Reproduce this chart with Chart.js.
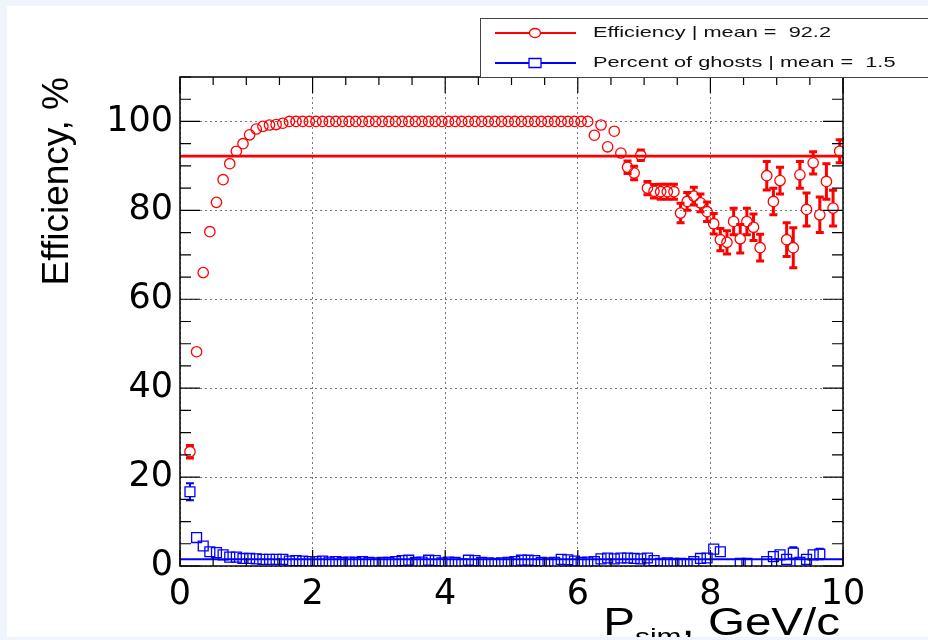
<!DOCTYPE html>
<html>
<head>
<meta charset="utf-8">
<title>Efficiency vs P_sim</title>
<script src="https://cdn.jsdelivr.net/npm/chart.js@4.4.1/dist/chart.umd.min.js"></script>
<style>
  html, body { margin: 0; padding: 0; background: #f0f4fc; overflow: hidden; }
  #page { position: absolute; left: 7px; top: 6px; width: 921px; height: 631px; overflow: hidden; background: #fff; }
  #c { position: absolute; left: -7px; top: -6px; }
</style>
</head>
<body>
<div id="page"><canvas id="c" width="928" height="640"></canvas></div>
<script>
/* ---------- Data ---------- */
const xTicks = [0, 2, 4, 6, 8, 10];
const yTicks = [0, 20, 40, 60, 80, 100];

const binCenters = [
  0.15, 0.25, 0.35, 0.45, 0.55, 0.65, 0.75, 0.85, 0.95,
  1.05, 1.15, 1.25, 1.35, 1.45, 1.55, 1.65, 1.75, 1.85, 1.95,
  2.05, 2.15, 2.25, 2.35, 2.45, 2.55, 2.65, 2.75, 2.85, 2.95,
  3.05, 3.15, 3.25, 3.35, 3.45, 3.55, 3.65, 3.75, 3.85, 3.95,
  4.05, 4.15, 4.25, 4.35, 4.45, 4.55, 4.65, 4.75, 4.85, 4.95,
  5.05, 5.15, 5.25, 5.35, 5.45, 5.55, 5.65, 5.75, 5.85, 5.95,
  6.05, 6.15, 6.25, 6.35, 6.45, 6.55, 6.65, 6.75, 6.85, 6.95,
  7.05, 7.15, 7.25, 7.35, 7.45, 7.55, 7.65, 7.75, 7.85, 7.95,
  8.05, 8.15, 8.25, 8.35, 8.45, 8.55, 8.65, 8.75, 8.85, 8.95,
  9.05, 9.15, 9.25, 9.35, 9.45, 9.55, 9.65, 9.75, 9.85, 9.95
];

const efficiency = [
  25.7, 48.2, 66.0, 75.2, 81.8, 86.9, 90.5, 93.3, 95.0,
  97.0, 98.3, 98.9, 99.2, 99.3, 99.6, 100, 100, 100, 100,
  100, 100, 100, 100, 100, 100, 100, 100, 100, 100,
  100, 100, 100, 100, 100, 100, 100, 100, 100, 100,
  100, 100, 100, 100, 100, 100, 100, 100, 100, 100,
  100, 100, 100, 100, 100, 100, 100, 100, 100, 100,
  100, 100, 96.9, 99.2, 94.3, 97.8, 92.9, 89.7, 88.4, 92.4,
  85.0, 84.3, 84.2, 84.2, 84.2, 79.4, 82.0, 83.2, 81.7, 79.7,
  77.0, 73.4, 72.8, 77.5, 73.6, 77.5, 76.2, 71.6, 87.8, 82.0,
  86.7, 73.4, 71.6, 88.0, 80.2, 90.7, 79.0, 86.5, 80.5, 93.3
];

const efficiencyErr = [
  1.4, 0.6, 0.5, 0.5, 0.4, 0.4, 0.3, 0.3, 0.2,
  0.2, 0.2, 0.1, 0.1, 0.1, 0.1, 0.1, 0.1, 0.1, 0.1,
  0.1, 0.1, 0.1, 0.1, 0.1, 0.1, 0.1, 0.1, 0.1, 0.1,
  0.1, 0.1, 0.1, 0.1, 0.1, 0.1, 0.1, 0.1, 0.1, 0.1,
  0.1, 0.1, 0.1, 0.1, 0.1, 0.1, 0.1, 0.1, 0.1, 0.1,
  0.1, 0.1, 0.1, 0.1, 0.1, 0.1, 0.1, 0.1, 0.1, 0.1,
  0.1, 0.1, 0.8, 0.5, 0.9, 0.7, 1.0, 1.4, 1.5, 1.2,
  1.5, 1.5, 1.7, 1.7, 1.7, 2.2, 2.0, 2.0, 2.0, 2.2,
  2.3, 2.5, 2.6, 3.0, 3.2, 3.0, 3.0, 3.0, 3.2, 3.0,
  3.0, 3.8, 4.5, 3.0, 3.7, 2.5, 4.0, 4.0, 4.0, 2.6
];

const ghosts = [
  16.7, 6.4, 4.5, 3.2, 3.0, 2.5, 2.0, 2.0, 1.7,
  1.7, 1.6, 1.5, 1.5, 1.5, 1.5, 1.1, 1.2, 1.1, 1.0,
  1.0, 1.1, 0.9, 1.0, 0.8, 0.9, 0.8, 1.0, 0.8, 0.7,
  0.8, 0.8, 1.0, 1.2, 1.3, 0.8, 0.9, 1.3, 1.2, 0.7,
  0.9, 0.8, 0.4, 1.3, 1.2, 0.8, 0.7, 0.6, 0.7, 0.8,
  1.0, 1.3, 1.3, 1.2, 0.8, 0.7, 0.8, 1.5, 1.4, 1.1,
  0.8, 0.9, 1.0, 1.6, 1.8, 1.6, 1.8, 1.8, 1.7, 1.6,
  1.8, 1.2, 0.6, 0.7, 0.6, 0.6, 0.5, 1.0, 1.7, 1.8,
  3.8, 3.2, null, null, 0.6, 0.6, null, null, 1.0, 2.1,
  2.5, 1.5, 2.9, 0.8, 1.5, 2.5, 2.7, null, null, null
];

const ghostsErr = [
  1.9, 0.5, 0.4, 0.3, 0.3, 0.3, 0.2, 0.2, 0.2,
  0.2, 0.2, 0.2, 0.2, 0.2, 0.2, 0.2, 0.2, 0.2, 0.2,
  0.2, 0.2, 0.2, 0.2, 0.2, 0.2, 0.2, 0.2, 0.2, 0.2,
  0.2, 0.2, 0.2, 0.2, 0.2, 0.2, 0.2, 0.2, 0.2, 0.2,
  0.2, 0.2, 0.2, 0.2, 0.2, 0.2, 0.2, 0.2, 0.2, 0.2,
  0.2, 0.2, 0.2, 0.2, 0.2, 0.2, 0.2, 0.2, 0.2, 0.2,
  0.2, 0.2, 0.2, 0.2, 0.2, 0.2, 0.2, 0.2, 0.2, 0.2,
  0.2, 0.2, 0.2, 0.2, 0.2, 0.2, 0.2, 0.2, 0.2, 0.2,
  0.8, 0.7, 0, 0, 0.3, 0.3, 0, 0, 0.4, 0.6,
  0.9, 0.5, 1.3, 0.3, 0.5, 0.9, 1.2, 0, 0, 0
];

const effMean = 92.2;
const ghostMean = 1.5;
const legendLabels = ['Efficiency | mean =  92.2', 'Percent of ghosts | mean =  1.5'];
const xTitle = ['P', 'sim', ', GeV/c'];
const yTitle = 'Efficiency, %';

const RED = '#ff0000';
const BLUE = '#0000ff';

function toPoints(values, errs) {
  const pts = [];
  values.forEach((v, i) => {
    if (v === null) return;
    pts.push({ x: binCenters[i], y: v, err: errs[i] });
  });
  return pts;
}

/* ---------- Decorations (ROOT style) ---------- */
const rootDecor = {
  id: 'rootDecor',
  afterDatasetsDraw(chart) {
    const { ctx, scales: { y } } = chart;
    chart.data.datasets.forEach((ds, i) => {
      if (!ds.errWidth) return;
      const meta = chart.getDatasetMeta(i);
      ctx.save();
      ctx.strokeStyle = ds.borderColor;
      ctx.lineWidth = ds.errWidth;
      meta.data.forEach((el, j) => {
        const raw = ds.data[j];
        const yTop = y.getPixelForValue(raw.y + raw.err);
        const yBot = y.getPixelForValue(raw.y - raw.err);
        const r = ds.markerHalf;
        if (el.y - yTop <= r) return;
        ctx.beginPath();
        ctx.moveTo(el.x, yTop); ctx.lineTo(el.x, el.y - r);
        ctx.moveTo(el.x, el.y + r); ctx.lineTo(el.x, yBot);
        ctx.moveTo(el.x - 4, yTop); ctx.lineTo(el.x + 4, yTop);
        ctx.moveTo(el.x - 4, yBot); ctx.lineTo(el.x + 4, yBot);
        ctx.stroke();
      });
      ctx.restore();
    });
  },
  afterDraw(chart) {
    const { ctx, chartArea: a, scales: { x, y } } = chart;
    ctx.save();
    // frame
    ctx.strokeStyle = '#000';
    ctx.lineWidth = 1.5;
    ctx.strokeRect(a.left, a.top, a.right - a.left, a.bottom - a.top);
    // inward ticks
    ctx.lineWidth = 1.2;
    ctx.beginPath();
    for (let v = 0; v <= 110; v += 5) {
      const py = y.getPixelForValue(v);
      const len = v % 20 === 0 ? 20 : 11;
      ctx.moveTo(a.left, py); ctx.lineTo(a.left + len, py);
      ctx.moveTo(a.right, py); ctx.lineTo(a.right - len, py);
    }
    for (let v = 0; v <= 10; v += 0.5) {
      const px = x.getPixelForValue(v);
      const len = v % 2 === 0 ? 16 : 8;
      ctx.moveTo(px, a.bottom); ctx.lineTo(px, a.bottom - len);
      ctx.moveTo(px, a.top); ctx.lineTo(px, a.top + len);
    }
    ctx.stroke();

    // legend box
    ctx.fillStyle = '#fff';
    ctx.fillRect(480, 18, 460, 59);
    ctx.strokeStyle = '#444';
    ctx.lineWidth = 1;
    ctx.strokeRect(480.5, 18.5, 460, 59);
    const colors = [RED, BLUE];
    legendLabels.forEach((label, i) => {
      const ly = 33 + i * 30;
      ctx.strokeStyle = colors[i];
      ctx.lineWidth = 2;
      ctx.beginPath();
      ctx.moveTo(495, ly); ctx.lineTo(576, ly);
      ctx.stroke();
      ctx.lineWidth = 1.3;
      ctx.fillStyle = '#fff';
      ctx.beginPath();
      if (i === 0) {
        ctx.ellipse(535, ly, 5.5, 4.5, 0, 0, Math.PI * 2);
      } else {
        ctx.rect(529, ly - 4.5, 12, 9);
      }
      ctx.fill();
      ctx.stroke();
      ctx.save();
      ctx.translate(593, ly);
      ctx.scale(1.45, 1);
      ctx.fillStyle = '#111';
      ctx.font = '15px "Liberation Sans"';
      ctx.textBaseline = 'middle';
      ctx.fillText(label, 0, 0);
      ctx.restore();
    });

    // x axis title with subscript
    const big = '38px "Liberation Sans"';
    const small = '24px "Liberation Sans"';
    const sx = 1.25;
    ctx.font = big;
    const w0 = ctx.measureText(xTitle[0]).width;
    const w2 = ctx.measureText(xTitle[2]).width;
    ctx.font = small;
    const w1 = ctx.measureText(xTitle[1]).width;
    const total = (w0 + w1 + w2) * sx;
    ctx.save();
    ctx.translate(a.right - 3 - total, 635);
    ctx.scale(sx, 1);
    ctx.fillStyle = '#000';
    ctx.textBaseline = 'alphabetic';
    ctx.font = big;
    ctx.fillText(xTitle[0], 0, 0);
    ctx.font = small;
    ctx.fillText(xTitle[1], w0, 10);
    ctx.font = big;
    ctx.fillText(xTitle[2], w0 + w1, 0);
    ctx.restore();
    ctx.restore();
  }
};

/* ---------- Chart ---------- */
const tickFont = { family: 'DejaVu Sans', size: 35 };

new Chart(document.getElementById('c').getContext('2d'), {
  type: 'scatter',
  data: {
    datasets: [
      {
        label: 'Efficiency',
        data: toPoints(efficiency, efficiencyErr),
        pointStyle: 'circle',
        pointRadius: 5.2,
        borderWidth: 1.3,
        borderColor: RED,
        backgroundColor: 'rgba(0,0,0,0)',
        errWidth: 3,
        markerHalf: 5
      },
      {
        label: 'Percent of ghosts',
        data: toPoints(ghosts, ghostsErr),
        pointStyle: 'rect',
        pointRadius: 7,
        borderWidth: 1.3,
        borderColor: BLUE,
        backgroundColor: 'rgba(0,0,0,0)',
        errWidth: 2,
        markerHalf: 5
      },
      {
        label: 'eff mean',
        data: [{ x: 0, y: effMean }, { x: 10, y: effMean }],
        showLine: true,
        pointRadius: 0,
        borderColor: RED,
        borderWidth: 2.8
      },
      {
        label: 'ghost mean',
        data: [{ x: 0, y: ghostMean }, { x: 10, y: ghostMean }],
        showLine: true,
        pointRadius: 0,
        borderColor: BLUE,
        borderWidth: 2
      }
    ]
  },
  options: {
    responsive: false,
    animation: false,
    layout: { padding: { left: 0, top: 77, right: 85, bottom: 0 } },
    plugins: { legend: { display: false }, tooltip: { enabled: false } },
    scales: {
      x: {
        type: 'linear',
        min: 0,
        max: 10,
        afterBuildTicks: (s) => { s.ticks = xTicks.map(v => ({ value: v })); },
        afterFit: (s) => { s.height = 74; },
        grid: { color: '#777', lineWidth: 1, drawTicks: false },
        border: { display: false, dash: [2, 3] },
        ticks: { font: tickFont, color: '#000', padding: 8, maxRotation: 0, autoSkip: false }
      },
      y: {
        type: 'linear',
        min: 0,
        max: 110,
        afterBuildTicks: (s) => { s.ticks = yTicks.map(v => ({ value: v })); },
        afterFit: (s) => { s.width = 180; },
        grid: { color: '#777', lineWidth: 1, drawTicks: false },
        border: { display: false, dash: [2, 3] },
        ticks: { font: tickFont, color: '#000', padding: 7, autoSkip: false },
        title: {
          display: true,
          text: yTitle,
          align: 'end',
          color: '#000',
          font: { family: 'Liberation Sans', size: 37 },
          padding: { top: 36, bottom: 0 }
        }
      }
    }
  },
  plugins: [rootDecor]
});
</script>
</body>
</html>
